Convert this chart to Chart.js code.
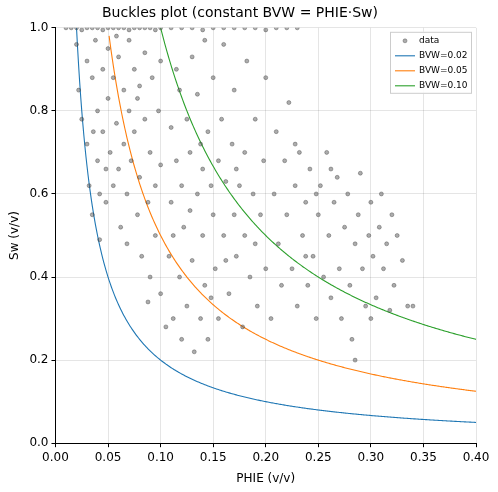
<!DOCTYPE html>
<html><head><meta charset="utf-8">
<script src="https://cdn.jsdelivr.net/npm/chart.js@4"></script>
<style>html,body{margin:0;padding:0;background:#fff}#c{width:498px;height:492px}</style>
</head><body><canvas id="c" width="498" height="492"></canvas>
<script>
const phie = [0.01,0.015,0.02,0.025,0.03,0.035,0.04,0.045,0.05,0.055,0.06,0.065,0.07,0.075,0.08,0.085,0.09,0.095,0.1,0.11,0.12,0.13,0.14,0.15,0.16,0.17,0.18,0.19,0.2,0.21,0.22,0.23,
0.02,0.022,0.025,0.03,0.03,0.032,0.035,0.035,0.038,0.04,0.04,0.042,0.045,0.045,0.048,0.05,0.05,0.052,0.055,0.055,0.058,0.06,0.06,0.062,0.065,0.065,0.068,0.07,0.07,0.072,0.075,0.075,0.078,0.08,0.08,0.082,0.085,0.085,0.088,0.09,0.09,0.092,0.095,0.095,0.098,0.1,0.1,0.1,0.058,0.048,0.068,0.078,0.088,0.042,0.036,
0.105,0.108,0.11,0.11,0.112,0.115,0.115,0.118,0.12,0.12,0.122,0.125,0.125,0.128,0.13,0.13,0.132,0.135,0.135,0.138,0.14,0.14,0.142,0.145,0.145,0.148,0.15,0.15,0.152,0.155,0.155,0.158,0.16,0.16,0.162,0.165,0.168,0.17,0.17,0.172,0.175,0.178,0.18,0.18,0.182,0.185,0.188,0.19,0.19,0.192,0.195,0.198,0.2,0.2,0.118,0.128,0.138,0.148,0.162,0.172,0.142,0.112,
0.205,0.208,0.21,0.212,0.215,0.218,0.22,0.222,0.225,0.228,0.23,0.232,0.235,0.238,0.24,0.242,0.245,0.248,0.25,0.252,0.255,0.258,0.26,0.262,0.265,0.268,0.27,0.272,0.275,0.278,0.28,0.282,0.285,0.288,0.29,0.292,0.295,0.298,0.3,0.302,0.305,0.308,0.31,0.312,0.315,0.318,0.32,0.322,0.325,0.33,0.335,0.34,0.285,0.262,0.248,0.228,0.238,0.3];
const sw = [1,1,1,0.995,1,1,1,0.995,1,1,1,1,0.995,1,1,1,1,0.995,1,1,1,1,0.995,1,1,1,1,1,0.995,1,1,1,
0.96,0.85,0.78,0.72,0.92,0.62,0.88,0.55,0.97,0.8,0.68,0.49,0.9,0.75,0.58,0.95,0.83,0.7,0.62,0.88,0.77,0.93,0.66,0.52,0.85,0.72,0.6,0.97,0.8,0.68,0.9,0.75,0.55,0.86,0.64,0.45,0.78,0.94,0.58,0.7,0.4,0.88,0.62,0.5,0.8,0.92,0.67,0.36,0.98,0.66,0.48,0.83,0.34,0.6,0.75,
0.28,0.45,0.76,0.58,0.3,0.68,0.9,0.4,0.25,0.62,0.52,0.78,0.33,0.7,0.44,0.93,0.22,0.6,0.84,0.3,0.66,0.5,0.38,0.75,0.25,0.62,0.88,0.55,0.42,0.68,0.3,0.78,0.5,0.96,0.63,0.36,0.72,0.55,0.85,0.45,0.62,0.28,0.7,0.5,0.92,0.4,0.6,0.78,0.48,0.33,0.55,0.68,0.42,0.88,0.85,0.56,0.72,0.35,0.44,0.66,0.97,0.5,
0.3,0.6,0.75,0.48,0.38,0.68,0.55,0.82,0.42,0.62,0.33,0.7,0.5,0.58,0.38,0.66,0.45,0.3,0.55,0.62,0.4,0.7,0.5,0.35,0.58,0.64,0.42,0.3,0.52,0.6,0.38,0.25,0.48,0.55,0.65,0.42,0.33,0.5,0.58,0.45,0.35,0.52,0.6,0.42,0.48,0.32,0.55,0.38,0.5,0.44,0.33,0.33,0.2,0.66,0.6,0.72,0.45,0.3];
const bvwValues = [0.02,0.05,0.10];
const bvwColors = ['#1f77b4','#ff7f0e','#2ca02c'];
const curvePhie = [];
for (let i=0;i<=400;i++) curvePhie.push(0.005+i*0.001);

const datasets = [{
  label:'data', type:'scatter',
  data: phie.map((x,i)=>({x, y:sw[i]})),
  backgroundColor:'rgba(90,90,90,0.5)', borderColor:'rgba(50,50,50,0.6)', borderWidth:0.6,
  pointRadius:2, pointStyle:'circle'
}];
bvwValues.forEach((b,k)=>{
  datasets.push({
    label:'BVW='+b.toFixed(2), type:'line',
    data: curvePhie.filter(x=>x>=b && x<=0.4).map(x=>({x, y:b/x})),
    borderColor:bvwColors[k], backgroundColor:bvwColors[k], borderWidth:1.1,
    pointRadius:0, tension:0
  });
});

const customLegend = {id:'cl', afterDraw(c){
  const ctx=c.ctx, a=c.chartArea;
  const w=82, h=62, x=a.right-w-4, y=a.top+4;
  ctx.save();
  ctx.fillStyle='rgba(255,255,255,0.85)'; ctx.fillRect(x,y,w,h);
  ctx.strokeStyle='#ccc'; ctx.lineWidth=1; ctx.strokeRect(x+0.5,y+0.5,w-1,h-1);
  ctx.font='9px "DejaVu Sans"'; ctx.textBaseline='middle'; ctx.fillStyle='#000';
  c.data.datasets.forEach((d,i)=>{
    const yy=y+9+i*15;
    if(i===0){ ctx.beginPath(); ctx.arc(x+15,yy,2,0,Math.PI*2); ctx.fillStyle=d.backgroundColor; ctx.fill(); ctx.strokeStyle=d.borderColor; ctx.lineWidth=0.6; ctx.stroke(); }
    else { ctx.beginPath(); ctx.moveTo(x+5,yy); ctx.lineTo(x+25,yy); ctx.strokeStyle=d.borderColor; ctx.lineWidth=1.1; ctx.stroke(); }
    ctx.fillStyle='#000'; ctx.fillText(d.label,x+29,yy);
  });
  ctx.restore();
}};

new Chart(document.getElementById('c'), {
  data:{datasets},
  plugins:[customLegend],
  options:{
    responsive:false, animation:false,
    layout:{padding:{left:4,right:22,top:0,bottom:2}},
    plugins:{
      title:{display:true,text:'Buckles plot (constant BVW = PHIE·Sw)',color:'#000',font:{family:'DejaVu Sans',size:14,weight:'normal'},padding:{top:5,bottom:6}},
      legend:{display:false},
      tooltip:{enabled:false}
    },
    scales:{
      x:{type:'linear',min:0,max:0.4,
        ticks:{stepSize:0.05,color:'#000',font:{family:'DejaVu Sans',size:12},callback:v=>v.toFixed(2)},
        grid:{color:'rgba(0,0,0,0.1)',tickColor:'#000',tickLength:4},border:{color:'#000'},
        title:{display:true,text:'PHIE (v/v)',color:'#000',font:{family:'DejaVu Sans',size:12}}},
      y:{type:'linear',min:0,max:1,
        ticks:{stepSize:0.2,color:'#000',font:{family:'DejaVu Sans',size:12},callback:v=>v.toFixed(1)},
        grid:{color:'rgba(0,0,0,0.1)',tickColor:'#000',tickLength:4},border:{color:'#000'},
        title:{display:true,text:'Sw (v/v)',color:'#000',font:{family:'DejaVu Sans',size:12}}}
    }
  }
});
</script></body></html>
